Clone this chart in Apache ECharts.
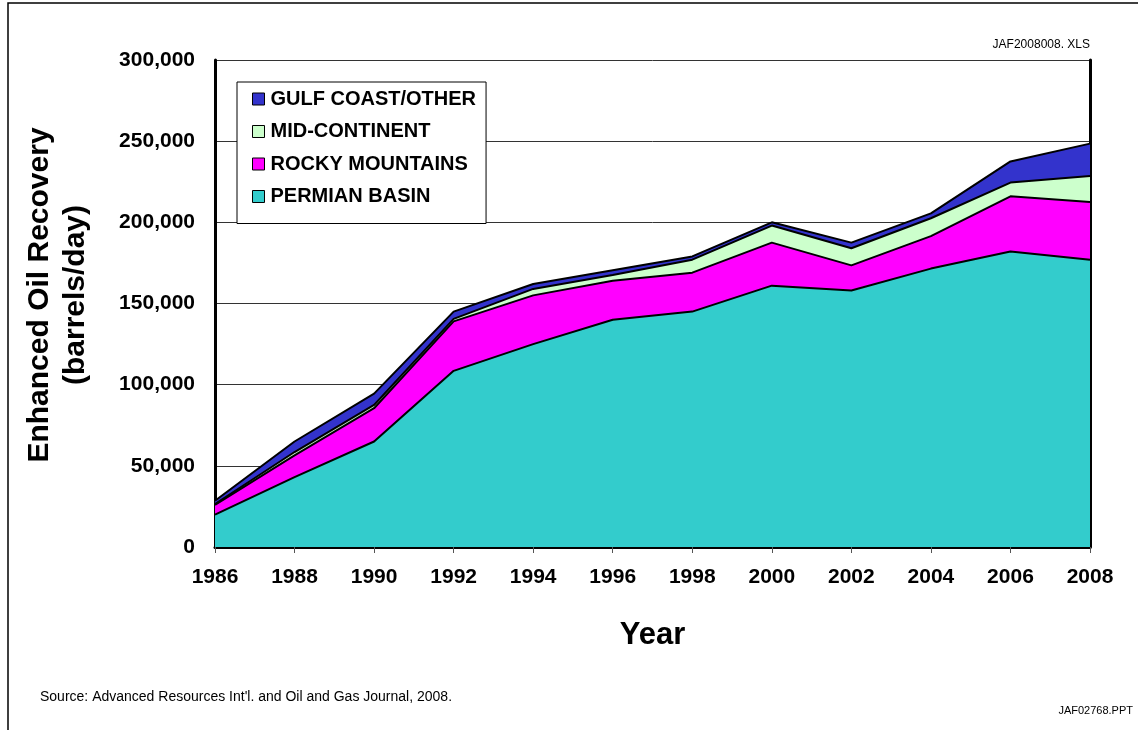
<!DOCTYPE html>
<html>
<head>
<meta charset="utf-8">
<script src="https://cdn.jsdelivr.net/npm/echarts@6/dist/echarts.min.js"></script>
<style>
  html, body { margin: 0; padding: 0; background: #fff; }
  #eorChart { width: 1138px; height: 730px; }
</style>
</head>
<body>
<div id="eorChart"></div>
<script>
  // years on the x axis
  var years = ['1986', '1988', '1990', '1992', '1994', '1996', '1998', '2000', '2002', '2004', '2006', '2008'];

  // barrels/day per region (stacked, bottom to top)
  var permianBasin = [20000, 43000, 65000, 108500, 125000, 140000, 145000, 161000, 158000, 171500, 182000, 177000];
  var rockyMountains = [6000, 13500, 20500, 30500, 30000, 24000, 24000, 26500, 15500, 20000, 34000, 35500];
  var midContinent = [500, 2000, 2000, 1500, 4000, 3500, 8000, 10500, 10500, 11000, 8500, 16000];
  var gulfCoast = [2000, 6500, 7000, 4500, 3000, 3000, 2000, 2000, 3500, 3000, 13000, 20000];

  var seriesNames = ['PERMIAN BASIN', 'ROCKY MOUNTAINS', 'MID-CONTINENT', 'GULF COAST/OTHER'];
  var seriesColors = ['#33cccc', '#ff00ff', '#ccffcc', '#3333cc'];
  var seriesData = [permianBasin, rockyMountains, midContinent, gulfCoast];

  var fontFam = '"Liberation Sans", Arial, sans-serif';

  let chart = echarts.init(document.getElementById('eorChart'));

  let series = [];
  for (let i = 0; i < seriesNames.length; i++) {
    series.push({
      name: seriesNames[i],
      type: 'line',
      stack: 'eor',
      data: seriesData[i],
      showSymbol: false,
      symbol: 'none',
      color: seriesColors[i],
      lineStyle: { color: '#000', width: 2 },
      areaStyle: { color: seriesColors[i], opacity: 1 },
      emphasis: { disabled: true }
    });
  }

  // legend shows top layer first
  let legendData = [];
  for (let i = seriesNames.length - 1; i >= 0; i--) {
    legendData.push({
      name: seriesNames[i],
      itemStyle: { color: seriesColors[i], borderColor: '#000', borderWidth: 1 }
    });
  }

  let option = {
    animation: false,
    textStyle: { fontFamily: fontFam },
    grid: { left: 215, right: 48, top: 60, bottom: 183 },
    legend: {
      data: legendData,
      orient: 'vertical',
      left: 237,
      top: 82,
      icon: 'rect',
      itemWidth: 12,
      itemHeight: 12,
      itemGap: 12.5,
      padding: [7, 10, 17, 15],
      backgroundColor: '#fff',
      borderColor: '#000',
      borderWidth: 1,
      textStyle: { fontFamily: fontFam, fontWeight: 'bold', fontSize: 20, color: '#000', padding: [0, 0, 0, 1] }
    },
    xAxis: {
      type: 'category',
      data: years,
      boundaryGap: false,
      name: 'Year',
      nameLocation: 'middle',
      nameGap: 73,
      nameTextStyle: { fontFamily: fontFam, fontWeight: 'bold', fontSize: 31, color: '#000' },
      axisLine: { lineStyle: { color: '#000', width: 3 } },
      axisTick: { show: true, length: 6, lineStyle: { color: '#555', width: 1 } },
      axisLabel: { fontFamily: fontFam, fontWeight: 'bold', fontSize: 21, color: '#000', margin: 20 },
      splitLine: { show: false }
    },
    yAxis: [
      {
        type: 'value',
        min: 0,
        max: 300000,
        interval: 50000,
        axisLine: { show: true, lineStyle: { color: '#000', width: 3 } },
        axisTick: { show: false },
        axisLabel: {
          fontFamily: fontFam, fontWeight: 'bold', fontSize: 21, color: '#000', margin: 20,
          formatter: function (v) { return v.toLocaleString('en-US'); }
        },
        splitLine: { show: true, lineStyle: { color: '#333', width: 1 } }
      },
      {
        type: 'value',
        position: 'right',
        min: 0,
        max: 300000,
        interval: 50000,
        axisLine: { show: true, lineStyle: { color: '#000', width: 3 } },
        axisTick: { show: false },
        axisLabel: { show: false },
        splitLine: { show: false }
      }
    ],
    graphic: [
      {
        type: 'rect',
        shape: { x: 8, y: 3, width: 1200, height: 800 },
        style: { fill: 'none', stroke: '#000', lineWidth: 1.5 },
        silent: true
      },
      {
        type: 'text', x: 40, y: 295, rotation: Math.PI / 2,
        style: { text: 'Enhanced Oil Recovery', font: 'bold 30px ' + fontFam, fill: '#000', textAlign: 'center', textVerticalAlign: 'middle' }
      },
      {
        type: 'text', x: 76, y: 295, rotation: Math.PI / 2,
        style: { text: '(barrels/day)', font: 'bold 30px ' + fontFam, fill: '#000', textAlign: 'center', textVerticalAlign: 'middle' }
      },
      {
        type: 'text', x: 1090, y: 45,
        style: { text: 'JAF2008008. XLS', font: '12px ' + fontFam, fill: '#000', textAlign: 'right', textVerticalAlign: 'middle' }
      },
      {
        type: 'text', x: 40, y: 697,
        style: { text: "Source: Advanced Resources Int'l. and Oil and Gas Journal, 2008.", font: '14px ' + fontFam, fill: '#000', textAlign: 'left', textVerticalAlign: 'middle' }
      },
      {
        type: 'text', x: 1133, y: 711,
        style: { text: 'JAF02768.PPT', font: '11px ' + fontFam, fill: '#000', textAlign: 'right', textVerticalAlign: 'middle' }
      }
    ],
    series: series
  };

  chart.setOption(option);
</script>
</body>
</html>
